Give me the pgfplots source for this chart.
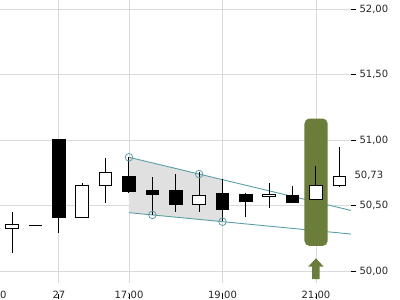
\documentclass[border=0pt]{standalone}
\usepackage{pgfplots}
\pgfplotsset{compat=1.18}
\usepackage{fontspec}
\setmainfont{DejaVu Sans}
\definecolor{olivebox}{HTML}{6B7D3A}
\definecolor{tealline}{HTML}{5B9FA6}
\definecolor{wedge}{HTML}{E0E0E0}
\definecolor{gridc}{HTML}{DADADA}
\begin{document}
\begin{tikzpicture}
\begin{axis}[
  scale only axis, width=351pt, height=283pt,
  xmin=-0.52, xmax=14.5, ymin=49.908, ymax=52.069,
  axis line style={draw=none},
  xtick={2,5,9,13}, xticklabels={27,17:00,19:00,21:00},
  extra x ticks={-0.515}, extra x tick labels={30}, extra x tick style={grid=none, xtick style={draw=none}},
  ytick={50,50.5,51,51.5,52},
  extra y ticks={50.73}, extra y tick style={grid=none, major tick length=0pt},
  ytick pos=right, xtick pos=bottom,
  tick align=outside, major tick length=5pt,
  grid=major, grid style={gridc, line width=0.8pt},
  yticklabel style={/pgf/number format/.cd, fixed, fixed zerofill, precision=2, use comma},
  /pgf/number format/assume math mode=true,
  xticklabel style={yshift=0.5pt},
  xtick style={yshift=-11pt, black, line width=0.8pt},
  ytick style={black, line width=0.8pt},
  tick label style={text=black!85},
]
\coordinate (SW) at (rel axis cs:0,0);
% wedge fill
\addplot[fill=wedge, draw=none] coordinates {(5,50.868) (9,50.697) (9,50.376) (5,50.445)} -- cycle;
% trend lines
\addplot[tealline, line width=0.9pt] coordinates {(5,50.868) (14.5,50.462)};
\addplot[tealline, line width=0.9pt] coordinates {(5,50.445) (14.5,50.282)};
\addplot[only marks, mark=o, mark size=3.8pt, tealline, mark options={line width=0.8pt}] coordinates {(5,50.868) (6,50.428) (8,50.740) (9,50.376)};
% signal box
\addplot[fill=olivebox, draw=none, rounded corners=5pt] coordinates {(12.51,50.191) (13.50,50.191) (13.50,51.164) (12.51,51.164)} -- cycle;
% candles: wicks
\addplot[black, line width=1pt] coordinates {(0,50.135) (0,50.453)};
\addplot[black, line width=1pt] coordinates {(2,50.292) (2,51.00)};
\addplot[black, line width=1pt] coordinates {(3,50.407) (3,50.669)};
\addplot[black, line width=1pt] coordinates {(4,50.521) (4,50.860)};
\addplot[black, line width=1pt] coordinates {(5,50.593) (5,50.868)};
\addplot[black, line width=1pt] coordinates {(6,50.427) (6,50.715)};
\addplot[black, line width=1pt] coordinates {(7,50.453) (7,50.740)};
\addplot[black, line width=1pt] coordinates {(8,50.453) (8,50.758)};
\addplot[black, line width=1pt] coordinates {(9,50.380) (9,50.702)};
\addplot[black, line width=1pt] coordinates {(10,50.415) (10,50.593)};
\addplot[black, line width=1pt] coordinates {(11,50.483) (11,50.674)};
\addplot[black, line width=1pt] coordinates {(12,50.517) (12,50.649)};
\addplot[black, line width=1pt] coordinates {(13,50.547) (13,50.802)};
\addplot[black, line width=1pt] coordinates {(14,50.644) (14,50.944)};
% candles: bodies (white = rising, black = falling)
\addplot[draw=black, fill=white, line width=1pt] coordinates {(-0.27,50.326) (0.27,50.326) (0.27,50.351) (-0.27,50.351)} -- cycle;
\addplot[draw=black, fill=white, line width=1pt] coordinates {(0.73,50.349) (1.27,50.349)};
\addplot[draw=black, fill=black, line width=1pt] coordinates {(1.73,51.00) (2.27,51.00) (2.27,50.407) (1.73,50.407)} -- cycle;
\addplot[draw=black, fill=white, line width=1pt] coordinates {(2.73,50.407) (3.27,50.407) (3.27,50.656) (2.73,50.656)} -- cycle;
\addplot[draw=black, fill=white, line width=1pt] coordinates {(3.73,50.651) (4.27,50.651) (4.27,50.753) (3.73,50.753)} -- cycle;
\addplot[draw=black, fill=black, line width=1pt] coordinates {(4.73,50.725) (5.27,50.725) (5.27,50.605) (4.73,50.605)} -- cycle;
\addplot[draw=black, fill=black, line width=1pt] coordinates {(5.73,50.618) (6.27,50.618) (6.27,50.580) (5.73,50.580)} -- cycle;
\addplot[draw=black, fill=black, line width=1pt] coordinates {(6.73,50.618) (7.27,50.618) (7.27,50.504) (6.73,50.504)} -- cycle;
\addplot[draw=black, fill=white, line width=1pt] coordinates {(7.73,50.509) (8.27,50.509) (8.27,50.573) (7.73,50.573)} -- cycle;
\addplot[draw=black, fill=black, line width=1pt] coordinates {(8.73,50.593) (9.27,50.593) (9.27,50.473) (8.73,50.473)} -- cycle;
\addplot[draw=black, fill=black, line width=1pt] coordinates {(9.73,50.585) (10.27,50.585) (10.27,50.529) (9.73,50.529)} -- cycle;
\addplot[draw=black, fill=white, line width=1pt] coordinates {(10.73,50.567) (11.27,50.567) (11.27,50.585) (10.73,50.585)} -- cycle;
\addplot[draw=black, fill=black, line width=1pt] coordinates {(11.73,50.578) (12.27,50.578) (12.27,50.521) (11.73,50.521)} -- cycle;
\addplot[draw=black, fill=white, line width=1pt] coordinates {(12.73,50.547) (13.27,50.547) (13.27,50.651) (12.73,50.651)} -- cycle;
\addplot[draw=black, fill=white, line width=1pt] coordinates {(13.73,50.651) (14.27,50.651) (14.27,50.720) (13.73,50.720)} -- cycle;
% arrow
\addplot[fill=olivebox, draw=none] coordinates {(12.84,49.937) (12.84,50.033) (12.67,50.033) (13.0,50.097) (13.33,50.033) (13.16,50.033) (13.16,49.937)} -- cycle;
\end{axis}
\pgfresetboundingbox
\path[use as bounding box] ([yshift=-17pt]SW) rectangle ([xshift=400pt,yshift=283pt]SW);
\end{tikzpicture}
\end{document}
